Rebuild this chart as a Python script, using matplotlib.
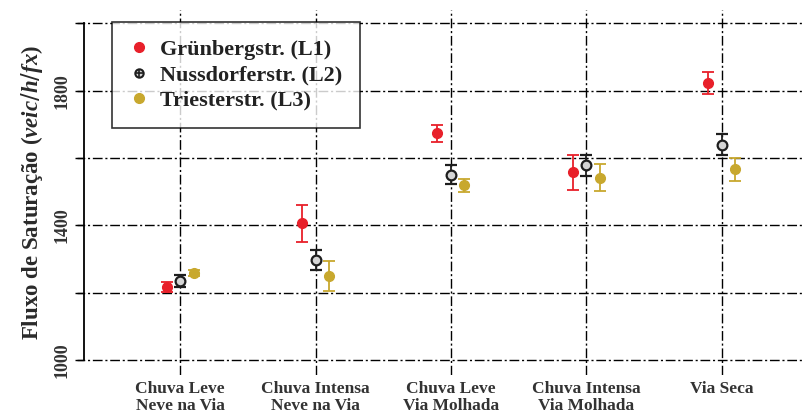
import matplotlib
matplotlib.use("Agg")
import matplotlib.pyplot as plt
from matplotlib.lines import Line2D
import numpy as np

categories = ["Chuva Leve\nNeve na Via", "Chuva Intensa\nNeve na Via",
              "Chuva Leve\nVia Molhada", "Chuva Intensa\nVia Molhada", "Via Seca"]
series = ["Grünbergstr. (L1)", "Nussdorferstr. (L2)", "Triesterstr. (L3)"]
l1_vals = [1216, 1406, 1673, 1557, 1824]
l1_err = [15, 55, 24, 53, 33]
l2_vals = [1234, 1296, 1551, 1578, 1640]
l2_err = [18, 30, 27, 30, 31]
l3_vals = [1258, 1249, 1519, 1542, 1566]
l3_err = [10, 44, 20, 40, 33]
yticks = [1000, 1400, 1800]

plt.rcParams['font.family'] = ['Liberation Serif', 'DejaVu Serif']
plt.rcParams['mathtext.fontset'] = 'custom'
plt.rcParams['mathtext.bfit'] = 'Liberation Serif:italic:bold'
plt.rcParams['mathtext.it'] = 'Liberation Serif:italic:bold'

fig = plt.figure(figsize=(8.03, 4.17), dpi=100)
ax = fig.add_axes([84/803, 1-375/417, 1-84/803, (375-10)/417])

x = np.arange(len(categories))
off = 0.1
red = '#E8202A'
blk = '#1e1e1e'
yel = '#C8A82E'
dash = (0, (7, 2, 1.5, 2))

for gy in range(1000, 2001, 200):
    ax.plot([-0.78, 4.7], [gy, gy], color='black', lw=1.0, linestyle=dash, zorder=1,
            clip_on=False)
for xi in x:
    ax.axvline(xi, color='black', lw=1.0, linestyle=dash, zorder=1)

ax.errorbar(x - off, l1_vals, yerr=l1_err, fmt='o', color=red, ms=7, capsize=4,
            elinewidth=1.3, capthick=1.3, zorder=3)
ax.errorbar(x, l2_vals, yerr=l2_err, fmt='o', color=blk, mfc='#d5d5d5', mec=blk, mew=1.6,
            ms=7, capsize=4, elinewidth=1.3, capthick=1.3, zorder=3)
ax.errorbar(x + off, l3_vals, yerr=l3_err, fmt='o', color=yel, ms=7, capsize=4,
            elinewidth=1.3, capthick=1.3, zorder=3)

ax.set_xlim(-0.71, 4.6)
ax.set_ylim(955, 2040)
for s in ['top', 'right', 'bottom']:
    ax.spines[s].set_visible(False)
ax.spines['left'].set_bounds(1000, 2000)
ax.spines['left'].set_linewidth(1.3)
ax.set_yticks(range(1000, 2001, 200))
ax.set_yticklabels([str(v) if v in yticks else '' for v in range(1000, 2001, 200)],
                   rotation=90, va='center', fontsize=13, fontweight='bold', color='#333333')
ax.tick_params(axis='y', length=5, width=1, pad=5)
ax.set_xticks(x)
ax.set_xticklabels(categories, fontsize=12.5, fontweight='bold', color='#333333',
                   linespacing=1.15)
ax.tick_params(axis='x', length=0, pad=4)

ax.set_ylabel(r"Fluxo de Saturação ($\mathit{veic/h/fx}$)", fontsize=16.5,
              fontweight='bold', color='#2a2a2a', labelpad=6)

h1 = Line2D([], [], marker='o', color=red, ls='none', ms=7)
h2a = Line2D([], [], marker='o', mfc='#d5d5d5', mec=blk, mew=1.5, ls='none', ms=6)
h2b = Line2D([], [], marker='+', color=blk, ls='none', ms=6, mew=1.2)
h3 = Line2D([], [], marker='o', color=yel, ls='none', ms=7)
leg = ax.legend([h1, (h2a, h2b), h3], series, loc='upper left',
                bbox_to_anchor=(28/719, 1 - 12/365),
                prop={'weight': 'bold', 'size': 16}, frameon=True, fancybox=False,
                edgecolor='black', handletextpad=0.5, labelspacing=0.22,
                borderpad=0.78, handlelength=0.9, borderaxespad=0)
leg.get_frame().set_linewidth(1.2)
for t in leg.get_texts():
    t.set_color('#222222')

fig.savefig("out.png", dpi=100)
